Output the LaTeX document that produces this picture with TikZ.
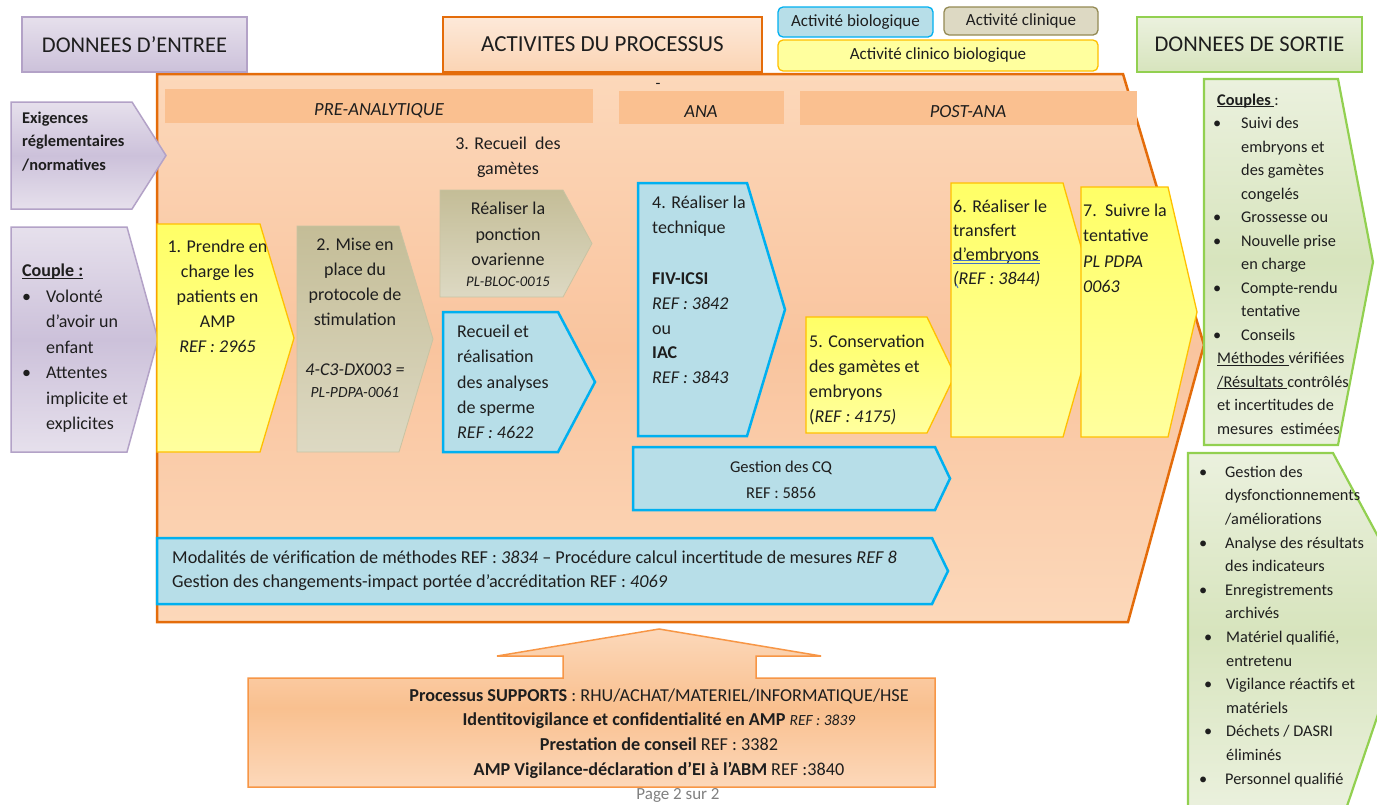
\documentclass[tikz,border=0pt]{standalone}
\usepackage{fontspec}
\setmainfont{Carlito}
\definecolor{orb}{HTML}{E46C0A}
\definecolor{pchA}{HTML}{FCD8BA}
\definecolor{pchB}{HTML}{F9C49E}
\definecolor{bandc}{HTML}{FAC090}
\definecolor{puA}{HTML}{E6E0EC}
\definecolor{puB}{HTML}{CCC1DA}
\definecolor{pub}{HTML}{B3A2C7}
\definecolor{taA}{HTML}{C4BD97}
\definecolor{taB}{HTML}{DDD9C3}
\definecolor{tab}{HTML}{C9C3A2}
\definecolor{yeA}{HTML}{FFFF66}
\definecolor{yeB}{HTML}{FFFF9E}
\definecolor{yeb}{HTML}{FFC000}
\definecolor{blf}{HTML}{B7DEE8}
\definecolor{blb}{HTML}{00B0F0}
\definecolor{grA}{HTML}{EBF1DE}
\definecolor{grB}{HTML}{D7E4BD}
\definecolor{grb}{HTML}{92D050}
\definecolor{acA}{HTML}{FDE9D9}
\definecolor{acB}{HTML}{FBD4B4}
\definecolor{supb}{HTML}{F79646}
\definecolor{supB}{HTML}{F9C08F}
\definecolor{txc}{HTML}{1E1E1E}
\definecolor{wavy}{HTML}{4472C4}
\definecolor{tanb}{HTML}{948A54}
\newcommand{\fl}{\rule{0pt}{16pt}}
\newcommand{\fsz}[2]{\fontsize{#1}{#2}\selectfont}
\newcommand{\pent}[6]{\path[#1] (#2,#3) -- (#4,#3) -- (#5,{(#3+#6)/2}) -- (#4,#6) -- (#2,#6) -- cycle;}
\newcommand{\bul}[1]{\makebox[#1][l]{\textbullet}}
\tikzset{
  tx/.style={inner sep=0pt, text=txc, font=\fsz{18}{25}},
  hdr/.style={inner sep=0pt, text=txc, font=\fsz{22.5}{26}, minimum width=225pt, minimum height=55pt},
  leg/.style={inner sep=0pt, text=txc, font=\fsz{17}{19}, rounded corners=5pt, line width=1.3pt},
  bandbox/.style={fill=bandc},
  purp/.style={draw=pub, line width=1.5pt, top color=puA, bottom color=puA, middle color=puB},
  tanbox/.style={draw=tab, line width=0.8pt, top color=taA, bottom color=taB},
  yelbox/.style={draw=yeb, line width=1.3pt, top color=yeA, bottom color=yeB},
  blubox/.style={draw=blb, line width=2.5pt, fill=blf, line join=miter},
  grnbox/.style={draw=grb, line width=2.2pt, top color=grA, bottom color=grA, middle color=grB},
}
\begin{document}
\begin{tikzpicture}[x=1pt,y=-1pt]
\useasboundingbox (0,0) rectangle (1377,804);
\fill[white] (0,0) rectangle (1377,804);

% main process pentagon
\path[draw=orb, line width=2.5pt, line join=miter, top color=pchA, bottom color=pchA, middle color=pchB]
  (157,74) -- (1123,74) -- (1204,345) -- (1128,622) -- (157,622) -- cycle;

% headers
\node[hdr, draw=pub, line width=2pt, top color=puA, bottom color=puB] (hdrIn) at (134.5,44.5) {DONNEES D’ENTREE};
\node[hdr, draw=orb, line width=2.5pt, top color=acA, bottom color=acB, minimum width=319pt, font=\fsz{23}{26}] (hdrAct) at (602.5,44.5) {ACTIVITES DU PROCESSUS};
\node[hdr, draw=grb, line width=2.2pt, top color=grA, bottom color=grB] (hdrOut) at (1249.5,44.5) {DONNEES DE SORTIE};

% legend
\node[leg, draw=blb, fill=blf, minimum width=155pt, minimum height=30pt] (legBio) at (855.5,22) {Activité biologique};
\node[leg, draw=tanb, fill=taB, minimum width=154pt, minimum height=28pt] (legCli) at (1021,21) {Activité clinique};
\node[leg, draw=yeb, fill=yeB, minimum width=320pt, minimum height=31pt] (legCB) at (938,55.5) {Activité clinico biologique};

% phase bands
\fill[bandbox] (165,89) rectangle (593,123);
\fill[bandbox] (619,91) rectangle (784,124);
\fill[bandbox] (800,91) rectangle (1137,125);
\node[tx, font=\fsz{18.5}{20}\itshape] (txPre) at (379,111) {PRE-ANALYTIQUE};
\node[tx, font=\fsz{18.5}{20}\itshape] (txAna) at (701,112) {ANA};
\node[tx, font=\fsz{18.5}{20}\itshape] (txPost) at (968,112) {POST-ANA};
\node[tx, font=\fsz{16}{20}] (dash) at (658,86) {-};

% inputs
\pent{purp}{11}{102}{132}{166}{209}
\node[tx, anchor=north west, font=\fsz{16.4}{23.5}\bfseries, align=left] (inExig) at (22,107)
  {\fl Exigences\\réglementaires\\/normatives};
\pent{purp}{11}{227}{127}{158}{452}
\node[tx, anchor=north west, font=\fsz{18}{25.5}, align=left] (inCouple) at (22,260.4)
  {\fl\textbf{\underline{\smash{Couple :}}}\\
   \bul{24pt}Volonté\\\hspace*{24pt}d’avoir un\\\hspace*{24pt}enfant\\
   \bul{24pt}Attentes\\\hspace*{24pt}implicite et\\\hspace*{24pt}explicites};

% step 1
\pent{yelbox}{157}{224}{260}{294}{452}
\node[tx, anchor=north, align=center] (s1) at (217.5,236.4)
  {\fl 1. Prendre en\\charge les\\patients en\\AMP\\\textit{REF : 2965}};

% step 2
\pent{tanbox}{297}{226}{399}{433}{452}
\node[tx, anchor=north, align=center] (s2) at (355,234.4)
  {\fl 2. Mise en\\place du\\protocole de\\stimulation\\[25pt]\textit{4-C3-DX003 =}};
\node[tx, anchor=north, font=\fsz{15.5}{16}\itshape] (s2ref) at (355,381.5) {\fl PL-PDPA-0061};

% step 3
\node[tx, anchor=north, align=center] (s3h) at (508,133.4) {\fl 3. Recueil\ \ des\\gamètes};
\pent{tanbox}{440}{190}{563}{592}{297}
\node[tx, anchor=north, align=center, font=\fsz{18}{25.5}] (s3a) at (508,198.4)
  {\fl Réaliser la\\ponction\\ovarienne};
\node[tx, anchor=north, font=\fsz{14.7}{16}\itshape] (s3aref) at (508,270.4) {\fl PL-BLOC-0015};
\pent{blubox}{443}{312}{558}{595}{452}
\node[tx, anchor=north west, align=left, font=\fsz{18}{25.3}] (s3b) at (457,321.4)
  {\fl Recueil et\\réalisation\\des analyses\\de sperme\\\textit{REF : 4622}};

% step 4
\pent{blubox}{638}{183}{747}{785}{436}
\node[tx, anchor=north west, align=left, font=\fsz{18}{24.6}] (s4) at (652,192.4)
  {\fl 4. Réaliser la\\technique\\[27pt]\textbf{FIV-ICSI}\\\textit{REF : 3842}\\ou\\\textbf{IAC}\\\textit{REF : 3843}};

% gestion CQ
\pent{blubox}{633}{447}{935}{950}{510}
\node[tx, anchor=north, align=center, font=\fsz{16.5}{26}] (cq) at (781,456) {\fl Gestion des CQ\\REF : 5856};

% modalites
\pent{blubox}{157}{538}{932}{948}{604}
\node[tx, anchor=north west, align=left, font=\fsz{18.2}{24}] (mod) at (172,547)
  {\fl Modalités de vérification de méthodes REF : \textit{3834} – Procédure calcul incertitude de mesures \textit{REF 8}\\
   Gestion des changements-impact portée d’accréditation REF : \textit{4069}};

% step 5
\pent{yelbox}{806}{317}{927}{955}{433}
\node[tx, anchor=north west, align=left] (s5) at (809,331.4)
  {\fl 5. Conservation\\des gamètes et\\embryons\\(\textit{REF : 4175)}};

% step 6
\pent{yelbox}{951}{183}{1063}{1099}{437}
\node[tx, anchor=north west, align=left, font=\fsz{18}{24}] (s6) at (953,196.4)
  {\fl 6. Réaliser le\\transfert\\d’embryons\\\textit{(REF : 3844)}};
\coordinate (wA) at (953,260);
\coordinate (wB) at (1040,260);
\coordinate (wC) at (953,263.5);
\coordinate (wD) at (1040,263.5);
\draw[wavy, line width=0.9pt] (wA) -- (wB) (wC) -- (wD);
\coordinate (wE) at (956,284);
\coordinate (wF) at (958,288);
\draw[wavy, line width=0.9pt] (wE) -- (wF);

% step 7
\pent{yelbox}{1081}{187}{1168}{1197}{437}
\node[tx, anchor=north west, align=left, font=\fsz{18}{25.3}] (s7) at (1083,200.4)
  {\fl 7.\ \ Suivre la\\tentative\\\textit{PL PDPA}\\\textit{0063}};

% outputs
\pent{grnbox}{1204}{79}{1338}{1373}{445}
\node[tx, anchor=north west, align=left, font=\fsz{16.3}{23.5}] (out1) at (1213,89)
  {\fl\hspace*{4pt}\textbf{\underline{\smash{Couples\ }}}:\\
   \bul{28pt}Suivi des\\\hspace*{28pt}embryons et\\\hspace*{28pt}des gamètes\\\hspace*{28pt}congelés\\
   \bul{28pt}Grossesse ou\\
   \bul{28pt}Nouvelle prise\\\hspace*{28pt}en charge\\
   \bul{28pt}Compte-rendu\\\hspace*{28pt}tentative\\
   \bul{28pt}Conseils\\
   \hspace*{4pt}\underline{\smash{Méthodes\ }}vérifiées\\
   \hspace*{4pt}\underline{\smash{/Résultats\ }}contrôlés\\
   \hspace*{4pt}et incertitudes de\\
   \hspace*{4pt}mesures\ \ estimées};

\path[grnbox] (1188,453) -- (1333,453) -- (1415,605) -- (1345,812) -- (1188,812) -- cycle;
\node[tx, anchor=north west, align=left, font=\fsz{16.3}{23.6}] (out2) at (1199,461)
  {\fl\bul{26pt}Gestion des\\\hspace*{26pt}dysfonctionnements\\\hspace*{26pt}/améliorations\\
   \bul{26pt}Analyse des résultats\\\hspace*{26pt}des indicateurs\\
   \bul{26pt}Enregistrements\\\hspace*{26pt}archivés\\
   \hspace*{5pt}\bul{22pt}Matériel qualifié,\\\hspace*{27pt}entretenu\\
   \hspace*{5pt}\bul{22pt}Vigilance réactifs et\\\hspace*{27pt}matériels\\
   \hspace*{5pt}\bul{22pt}Déchets / DASRI\\\hspace*{27pt}éliminés\\
   \bul{26pt}Personnel qualifié};

% support arrow
\path[draw=supb, line width=1.5pt, top color=pchA, bottom color=pchA, middle color=supB]
  (248,678) -- (563,678) -- (563,656) -- (497,656) -- (659,629) -- (821,656) -- (756,656)
  -- (756,678) -- (935,678) -- (935,787) -- (248,787) -- cycle;
\node[tx, anchor=north, align=center, font=\fsz{18.2}{24.7}] (sup) at (659,685)
  {\fl\textbf{Processus SUPPORTS} : RHU/ACHAT/MATERIEL/INFORMATIQUE/HSE\\
   \textbf{Identitovigilance et confidentialité en AMP} {\fsz{15.5}{24.7}\textit{REF : 3839}}\\
   \textbf{Prestation de conseil} REF : 3382\\
   \textbf{AMP Vigilance-déclaration d’EI à l’ABM} REF :3840};
\node[inner sep=0pt, text=gray, font=\fsz{17}{18}] (page) at (678,795) {Page 2 sur 2};
\end{tikzpicture}
\end{document}
